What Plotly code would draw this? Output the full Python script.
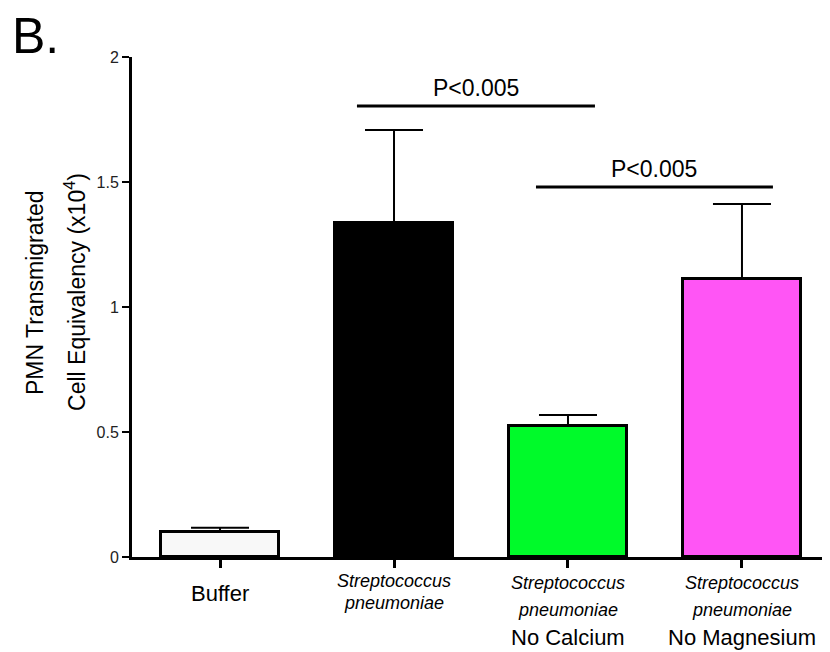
import plotly.graph_objects as go

categories = ["Buffer", "S. pneumoniae", "S. pneumoniae No Calcium", "S. pneumoniae No Magnesium"]
values = [0.10, 1.335, 0.524, 1.112]
errors = [0.017, 0.373, 0.044, 0.300]
colors = ["#f8f8f8", "#000000", "#00fa2a", "#ff55f5"]
tick_vals = [0, 0.5, 1, 1.5, 2]
tick_text = ["0", "0.5", "1", "1.5", "2"]
x_species = ["", "Streptococcus", "Streptococcus", "Streptococcus"]
x_species2 = ["", "pneumoniae", "pneumoniae", "pneumoniae"]
x_main = ["Buffer", "", "No Calcium", "No Magnesium"]
sig_pairs = [(0.787, 2.155, 1.804), (1.816, 3.178, 1.48)]
sig_text = ["P<0.005", "P<0.005"]
y_title = ["PMN Transmigrated", "Cell Equivalency (x10<sup>4</sup>)"]

FONT = "Liberation Sans, Arial, sans-serif"
xs = list(range(len(categories)))

fig = go.Figure()
fig.add_trace(go.Bar(
    x=xs, y=values, width=0.68,
    marker=dict(color=colors, line=dict(color="black", width=3)),
    error_y=dict(type="data", array=errors, arrayminus=[0]*4, symmetric=False,
                 color="black", thickness=2, width=29),
    showlegend=False,
))

shapes = []
annotations = []
for (x0, x1, y), t in zip(sig_pairs, sig_text):
    shapes.append(dict(type="line", xref="x", yref="y", x0=x0, x1=x1, y0=y, y1=y,
                       line=dict(color="black", width=3)))
    annotations.append(dict(x=(x0 + x1) / 2, y=y, xref="x", yref="y", text=t,
                            showarrow=False, yanchor="bottom", yshift=3,
                            font=dict(size=23, color="black", family=FONT)))


def xlabel(i, text, offset, size, italic=False):
    annotations.append(dict(x=i, y=0, xref="x", yref="paper", yanchor="middle",
                            yshift=-offset, text=("<i>%s</i>" % text) if italic else text,
                            showarrow=False,
                            font=dict(size=size, color="black", family=FONT)))


xlabel(0, x_main[0], 36, 22)
xlabel(1, x_species[1], 24, 18, True)
xlabel(1, x_species2[1], 46, 18, True)
for i in (2, 3):
    xlabel(i, x_species[i], 26, 18, True)
    xlabel(i, x_species2[i], 53, 18, True)
    xlabel(i, x_main[i], 80, 22)

annotations.append(dict(xref="paper", yref="paper", x=-0.175, y=1, xanchor="left",
                        yanchor="bottom", yshift=-9, text="B.", showarrow=False,
                        font=dict(size=50, color="black", family=FONT)))

for xp, t in zip([-0.139, -0.0817], y_title):
    annotations.append(dict(xref="paper", yref="paper", x=xp, y=0.53, xanchor="center",
                            yanchor="middle", textangle=-90, showarrow=False, text=t,
                            font=dict(size=23, color="black", family=FONT)))

fig.update_layout(
    width=822, height=644,
    margin=dict(l=124, r=0, t=49, b=95),
    paper_bgcolor="white", plot_bgcolor="white",
    font=dict(family=FONT, color="black"),
    bargap=0,
    shapes=shapes, annotations=annotations,
    xaxis=dict(range=[-0.506, 3.506], tickvals=xs, showticklabels=False,
               showline=True, linecolor="black", linewidth=3,
               ticks="outside", ticklen=8, tickwidth=3, tickcolor="black",
               showgrid=False, zeroline=False, fixedrange=True),
    yaxis=dict(range=[0, 2], tickvals=tick_vals, ticktext=tick_text,
               showline=True, linecolor="black", linewidth=3,
               ticks="outside", ticklen=7, tickwidth=2, tickcolor="black",
               tickfont=dict(size=16, color="#222"),
               showgrid=False, zeroline=False, fixedrange=True),
)

fig.write_html("out.html")
